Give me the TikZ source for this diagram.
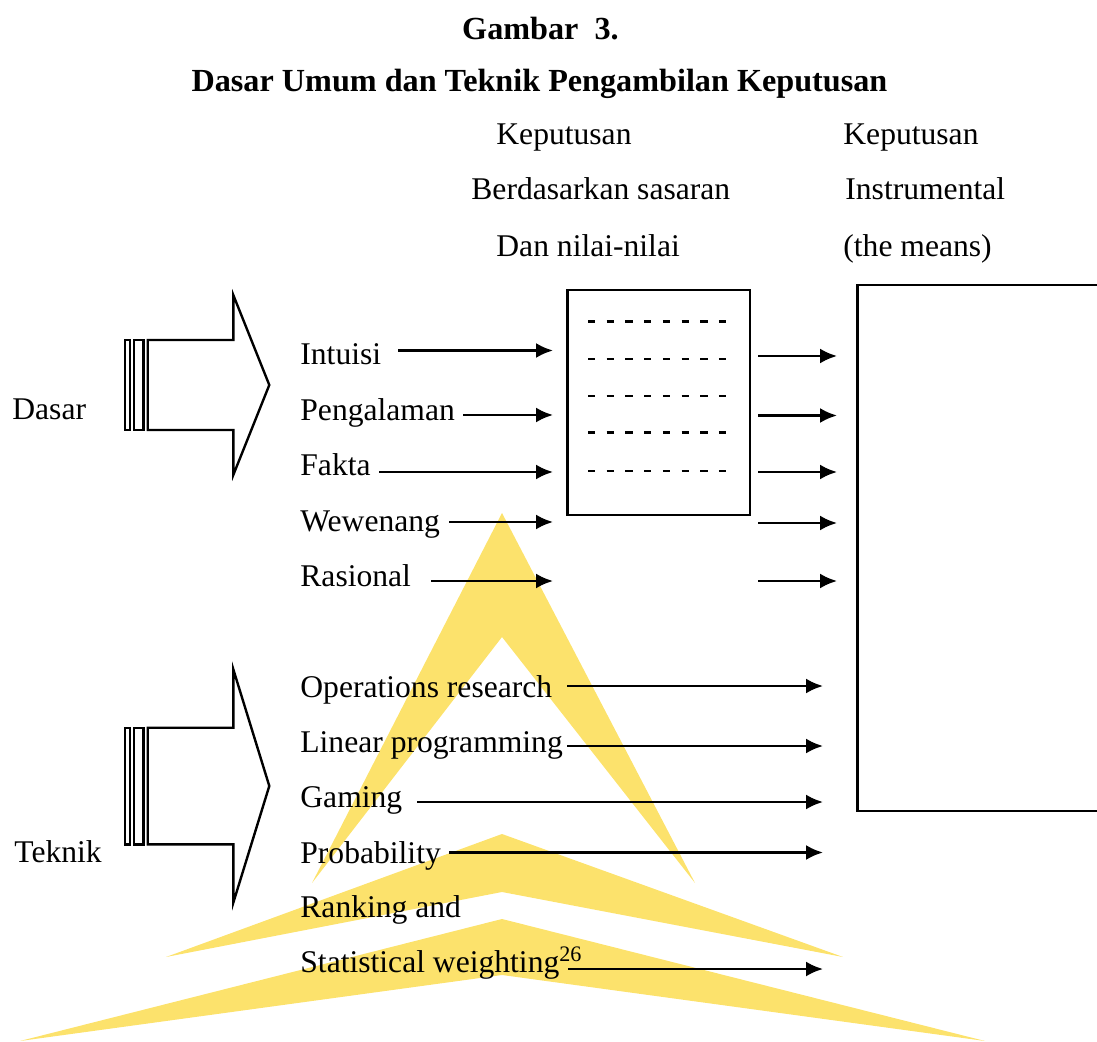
\documentclass[tikz,border=0pt]{standalone}
\usepackage{fontspec}
\setmainfont{Liberation Serif}
\usetikzlibrary{arrows.meta}
\definecolor{wmyellow}{RGB}{252,226,108}
\begin{document}
\begin{tikzpicture}[x=0.5pt,y=-0.5pt,
  lbl/.style={anchor=base west,inner sep=0pt,font=\fontsize{15.8}{19}\selectfont},
  ttl/.style={anchor=base,inner sep=0pt,font=\fontsize{16.1}{19}\selectfont\bfseries},
  conn/.style={line width=1.2pt,-{Latex[length=8.5pt,width=7.5pt]}},
  outline/.style={line width=1.2pt,line join=miter},
  wm/.style={fill=wmyellow,draw=none},
  dashrow/.style={line width=1.4pt,dash pattern=on 3.65pt off 5.7pt}]
\useasboundingbox (0,0) rectangle (1097,1042);

% watermark chevrons
\fill[wm] (502,513) -- (695,883) -- (502,637) -- (312,883) -- cycle;
\fill[wm] (502,834) -- (843,957) -- (502,892) -- (166,957) -- cycle;
\fill[wm] (502,919) -- (985,1041) -- (502,975) -- (20,1041) -- cycle;

% titles
\node[ttl] (t1) at (540.5,40) {Gambar\ \ 3.};
\node[ttl] (t2) at (539.5,92) {Dasar Umum dan Teknik Pengambilan Keputusan};

% column headers
\node[lbl] (h1a) at (496,145) {Keputusan};
\node[lbl] (h1b) at (471,200) {Berdasarkan sasaran};
\node[lbl] (h1c) at (496,257) {Dan nilai-nilai};
\node[lbl] (h2a) at (843,145) {Keputusan};
\node[lbl] (h2b) at (845,200) {Instrumental};
\node[lbl] (h2c) at (843,257) {(the means)};

% side labels
\node[lbl] (dasar) at (12,420) {Dasar};
\node[lbl] (teknik) at (14,862) {Teknik};

% block arrows
\draw[outline] (125,340) rectangle (130,430);
\draw[outline] (134,340) rectangle (143.3,430);
\draw[outline] (147.7,340) -- (233.3,340) -- (233.3,295) -- (269.3,385) -- (233.3,475) -- (233.3,430) -- (147.7,430) -- cycle;
\draw[outline] (125,727.7) rectangle (130,844.3);
\draw[outline] (134,727.7) rectangle (143.3,844.3);
\draw[outline] (147.7,727.7) -- (233.3,727.7) -- (233.3,669.3) -- (269.3,786) -- (233.3,902.7) -- (233.3,844.3) -- (147.7,844.3) -- cycle;

% boxes
\draw[outline] (567.3,290) rectangle (750,515);
\foreach \yy in {321.7,359,396,432.7,471}
  \draw[dashrow] (588,\yy) -- (728,\yy);
\draw[outline] (857.3,285) rectangle (1102,810.7);

% item labels
\node[lbl] (l1) at (300,365) {Intuisi};
\node[lbl] (l2) at (300,420.5) {Pengalaman};
\node[lbl] (l3) at (300,476) {Fakta};
\node[lbl] (l4) at (300,531.5) {Wewenang};
\node[lbl] (l5) at (300,587) {Rasional};
\node[lbl] (m1) at (300,697) {Operations research};
\node[lbl] (m2) at (300,752) {Linear programming};
\node[lbl] (m3) at (300,807) {Gaming};
\node[lbl] (m4) at (300,863) {Probability};
\node[lbl] (m5) at (300,917) {Ranking and};
\node[lbl] (m6) at (300,972) {Statistical weighting\textsuperscript{26}};

% arrows into the box
\coordinate (a1s) at (398,350.5); \coordinate (a1e) at (553,350.5);
\coordinate (a2s) at (463,415);   \coordinate (a2e) at (553,415);
\coordinate (a3s) at (379,472);   \coordinate (a3e) at (553,472);
\coordinate (a4s) at (449,522);   \coordinate (a4e) at (553,522);
\coordinate (a5s) at (431,581);   \coordinate (a5e) at (553,581);
\foreach \i in {1,...,5} \draw[conn] (a\i s) -- (a\i e);

% arrows out of the box
\coordinate (b1s) at (758,356);   \coordinate (b1e) at (837,356);
\coordinate (b2s) at (758,415.5); \coordinate (b2e) at (837,415.5);
\coordinate (b3s) at (758,472);   \coordinate (b3e) at (837,472);
\coordinate (b4s) at (758,523);   \coordinate (b4e) at (837,523);
\coordinate (b5s) at (758,581);   \coordinate (b5e) at (837,581);
\foreach \i in {1,...,5} \draw[conn] (b\i s) -- (b\i e);

% technique arrows
\coordinate (c1s) at (567,686);   \coordinate (c1e) at (823,686);
\coordinate (c2s) at (567,746);   \coordinate (c2e) at (823,746);
\coordinate (c3s) at (417,802);   \coordinate (c3e) at (823,802);
\coordinate (c4s) at (449,852.5); \coordinate (c4e) at (823,852.5);
\coordinate (c5s) at (568,969);   \coordinate (c5e) at (823,969);
\foreach \i in {1,...,5} \draw[conn] (c\i s) -- (c\i e);
\end{tikzpicture}
\end{document}
